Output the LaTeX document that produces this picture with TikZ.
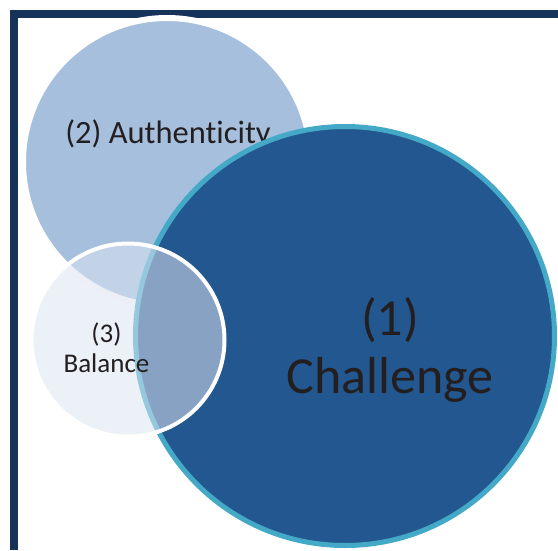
\documentclass[tikz,border=0pt]{standalone}
\usepackage{fontspec}
\setmainfont[Ligatures=NoCommon]{Carlito}
\definecolor{framenavy}{RGB}{22,51,89}
\definecolor{paleblue}{RGB}{165,191,221}
\definecolor{deepblue}{RGB}{35,87,143}
\definecolor{tealring}{RGB}{67,169,198}
\definecolor{mistblue}{RGB}{220,227,240}
\definecolor{inkgray}{RGB}{35,31,32}
\begin{document}
\begin{tikzpicture}[x=1pt, y=-1pt,
  bubble/.style={circle, inner sep=0pt, outer sep=0pt},
  bubbletext/.style={text=inkgray, align=center, inner sep=0pt}]
\useasboundingbox (0,0) rectangle (558,550);
% frame
\draw[framenavy, line width=8pt](13.5,550)--(13.5,13.5)--(558,13.5);
% (2) Authenticity
\node[bubble, fill=paleblue, draw=white, line width=6pt, minimum size=288pt](authenticity) at (167,162) {};
\node[bubbletext, anchor=base, font=\fontsize{32.5}{36}\selectfont](authtext) at (168,143) {(2) Authenticity};
% (1) Challenge
\node[bubble, fill=deepblue, draw=tealring, line width=5pt, minimum size=419pt](challenge) at (345,336) {};
\node[bubbletext, anchor=base, font=\fontsize{52}{58}\selectfont](chaltext) at (390,393) {(1)\\Challenge};
% (3) Balance
\node[bubble, fill=mistblue, fill opacity=.54, draw=white, line width=4pt, minimum size=193pt](balance) at (128,340) {};
\node[bubbletext, anchor=base, font=\fontsize{27}{30}\selectfont](baltext) at (106.5,372) {(3)\\Balance};
\end{tikzpicture}
\end{document}
